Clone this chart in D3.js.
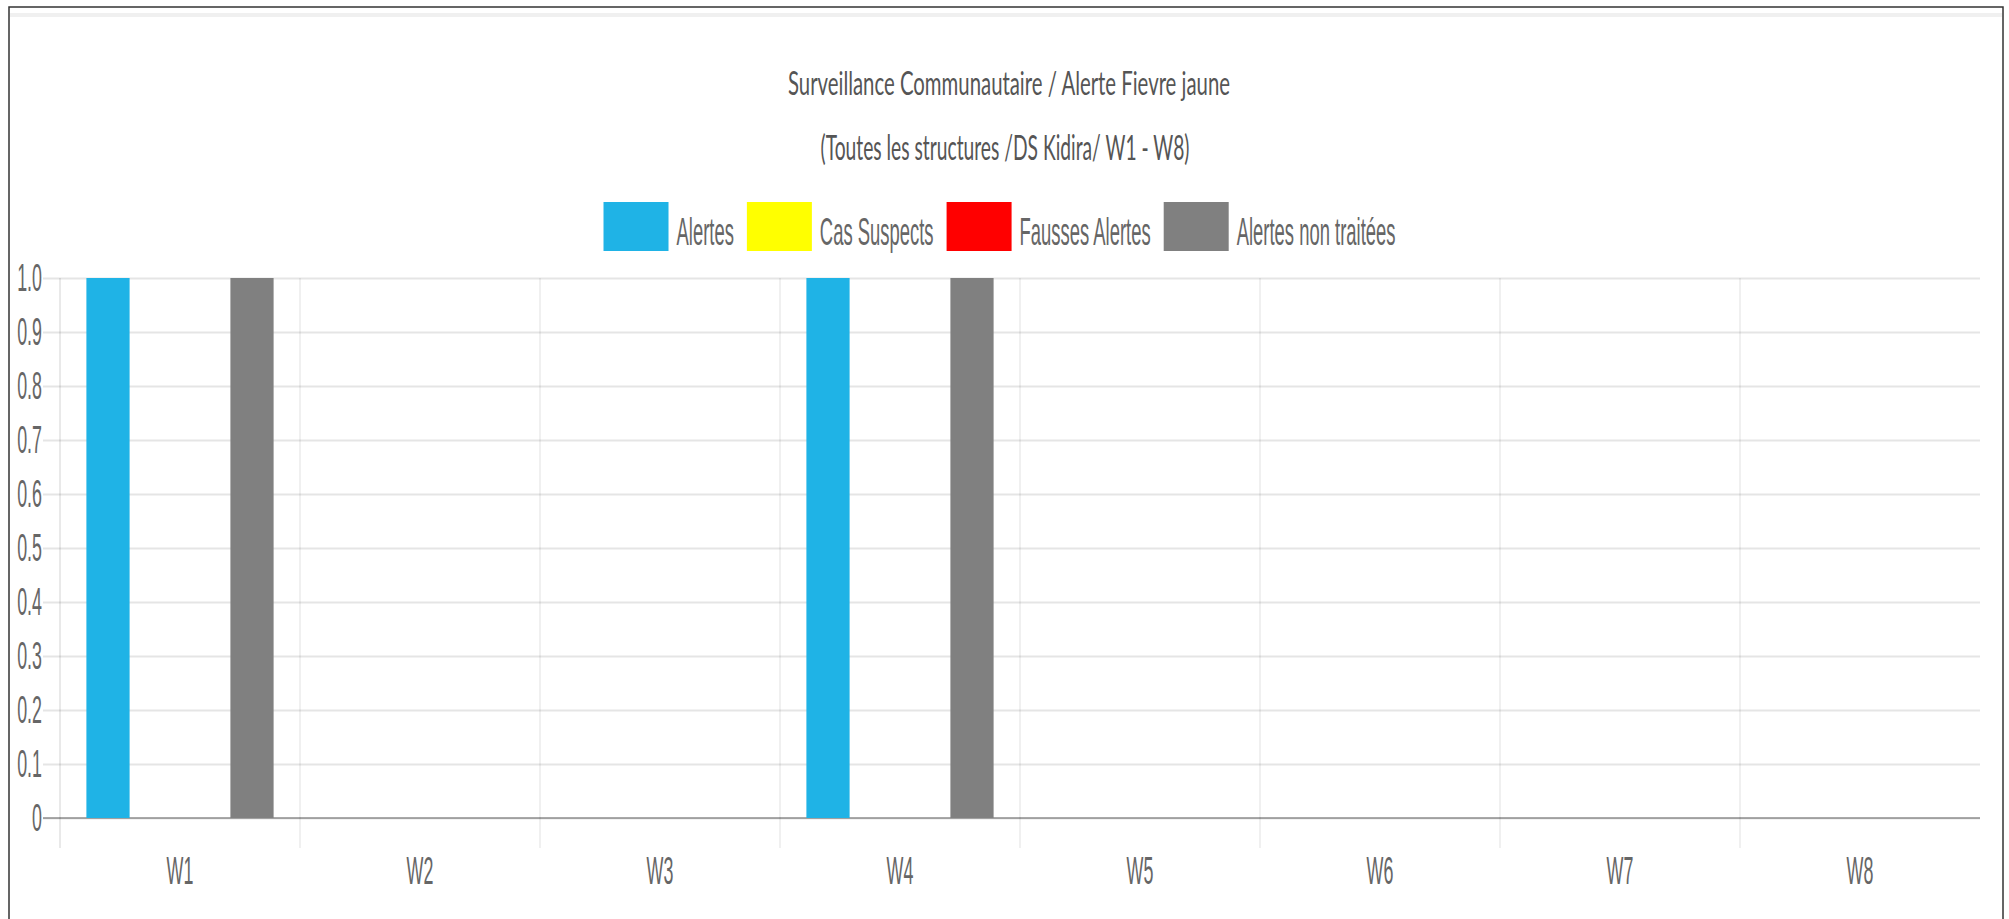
<!DOCTYPE html>
<html>
<head>
<meta charset="utf-8">
<script src="https://cdn.jsdelivr.net/npm/d3@7"></script>
<style>
  body { margin: 0; background: #fff; }
  svg { display: block; }
</style>
</head>
<body>
<div id="chart"></div>
<script>
// data
var weeks = ["W1", "W2", "W3", "W4", "W5", "W6", "W7", "W8"];
var seriesNames = ["Alertes", "Cas Suspects", "Fausses Alertes", "Alertes non traitées"];
var seriesColors = ["#1fb3e6", "#ffff00", "#ff0000", "#808080"];
var alertes = [1, 0, 0, 1, 0, 0, 0, 0];
var casSuspects = [0, 0, 0, 0, 0, 0, 0, 0];
var faussesAlertes = [0, 0, 0, 0, 0, 0, 0, 0];
var nonTraitees = [1, 0, 0, 1, 0, 0, 0, 0];
var yTicks = [0, 0.1, 0.2, 0.3, 0.4, 0.5, 0.6, 0.7, 0.8, 0.9, 1.0];
var titleLines = ["Surveillance Communautaire / Alerte Fievre jaune", "(Toutes les structures /DS Kidira/ W1 - W8)"];

var allSeries = [alertes, casSuspects, faussesAlertes, nonTraitees];

var W = 2009, H = 919;
var plotLeft = 60, plotRight = 1980, plotTop = 278, plotBottom = 818;
var sx = 0.47; // text is squeezed horizontally in the original
var legendSx = 0.485;
var txtColor = "#666";

var svg = d3.select("#chart").append("svg")
    .attr("width", W)
    .attr("height", H);

svg.append("rect").attr("width", W).attr("height", H).attr("fill", "#fff");

// panel frame
svg.append("line")
    .attr("x1", 10).attr("x2", 2002).attr("y1", 15).attr("y2", 15)
    .attr("stroke", "#f0f0f0").attr("stroke-width", 4);
svg.append("rect")
    .attr("x", 9).attr("y", 7).attr("width", 1994).attr("height", 930)
    .attr("fill", "none").attr("stroke", "#333").attr("stroke-width", 1.5);

// title
svg.selectAll(".title").data(titleLines).enter().append("text")
    .attr("class", "title")
    .attr("x", function (d, i) { return i == 0 ? 1009 : 1005 })
    .attr("y", function (d, i) { return i == 0 ? 95 : 160 })
    .attr("text-anchor", "middle")
    .attr("font-family", "Lato, 'Open Sans', sans-serif")
    .attr("font-size", function (d, i) { return i == 0 ? 32 : 34 })
    .attr("textLength", function (d, i) { return i == 0 ? 442 : 369 })
    .attr("lengthAdjust", "spacingAndGlyphs")
    .attr("fill", "#555")
    .text(function (d) { return d });

// scales
var x0 = d3.scaleBand().domain(weeks).range([plotLeft, plotRight]);
var bw = x0.bandwidth();
var x1 = d3.scaleBand().domain(seriesNames)
    .range([bw * 0.1, bw * 0.9])
    .paddingInner(0.1).paddingOuter(0.05);
var y = d3.scaleLinear().domain([0, 1]).range([plotBottom, plotTop]);

function squeeze(sel) {
    sel.each(function () {
        var tx = +this.getAttribute("x") || 0;
        this.setAttribute("x", 0);
        this.setAttribute("transform", "translate(" + tx + ",0) scale(" + sx + ",1)");
    });
}

// y axis with grid
var yAxis = d3.axisLeft(y)
    .tickValues(yTicks)
    .tickSize(plotRight - 43)
    .tickPadding(1)
    .tickFormat(function (d) { return d === 0 ? "0" : d3.format(".1f")(d) });

var gy = svg.append("g")
    .attr("transform", "translate(" + plotRight + ",0)")
    .call(yAxis);
gy.select(".domain").remove();
gy.selectAll(".tick line")
    .attr("stroke", "rgba(0,0,0,0.1)")
    .attr("stroke-width", 2);
gy.selectAll(".tick text")
    .attr("font-family", "'Liberation Sans', Arial, sans-serif")
    .attr("font-size", 38)
    .attr("fill", txtColor)
    .call(squeeze);

// vertical grid lines at category boundaries
svg.selectAll(".vgrid").data(weeks).enter().append("line")
    .attr("class", "vgrid")
    .attr("x1", function (d) { return x0(d) })
    .attr("x2", function (d) { return x0(d) })
    .attr("y1", plotTop).attr("y2", plotBottom + 30)
    .attr("stroke", function (d, i) { return i == 0 ? "rgba(0,0,0,0.15)" : "rgba(0,0,0,0.1)" })
    .attr("stroke-width", 1.2);

// zero line
svg.append("line")
    .attr("x1", 43).attr("x2", plotRight)
    .attr("y1", y(0)).attr("y2", y(0))
    .attr("stroke", "rgba(0,0,0,0.3)").attr("stroke-width", 2);

// x axis labels
var gx = svg.append("g")
    .attr("transform", "translate(0," + plotBottom + ")")
    .call(d3.axisBottom(x0).tickSize(0).tickPadding(39));
gx.select(".domain").remove();
gx.selectAll(".tick text")
    .attr("font-family", "'Liberation Sans', Arial, sans-serif")
    .attr("font-size", 38)
    .attr("fill", txtColor)
    .call(squeeze);

// bars
var groups = svg.selectAll(".week").data(weeks).enter().append("g")
    .attr("class", "week")
    .attr("transform", function (d) { return "translate(" + x0(d) + ",0)" });

groups.selectAll("rect")
    .data(function (d, i) {
        return seriesNames.map(function (s, j) { return { name: s, value: allSeries[j][i], color: seriesColors[j] } });
    })
    .enter().append("rect")
    .attr("x", function (d) { return x1(d.name) })
    .attr("width", x1.bandwidth())
    .attr("y", function (d) { return y(d.value) })
    .attr("height", function (d) { return y(0) - y(d.value) })
    .attr("fill", function (d) { return d.color });

// legend
var legend = svg.append("g");
var items = legend.selectAll(".item").data(seriesNames).enter().append("g").attr("class", "item");
items.append("rect")
    .attr("width", 65).attr("height", 49)
    .attr("y", 202)
    .attr("fill", function (d, i) { return seriesColors[i] });
items.append("text")
    .attr("y", 245)
    .attr("font-family", "'Liberation Sans', Arial, sans-serif")
    .attr("font-size", 38)
    .attr("fill", txtColor)
    .text(function (d) { return d });

var widths = [];
items.select("text").each(function () { widths.push(this.getComputedTextLength() * legendSx) });
var total = d3.sum(widths) + seriesNames.length * (65 + 8) + (seriesNames.length - 1) * 13;
var cx = 999.5 - total / 2;
items.each(function (d, i) {
    var g = d3.select(this);
    g.select("rect").attr("x", cx);
    g.select("text").attr("transform", "translate(" + (cx + 65 + 8) + ",0) scale(" + legendSx + ",1)");
    cx += 65 + 8 + widths[i] + 13;
});
</script>
</body>
</html>
